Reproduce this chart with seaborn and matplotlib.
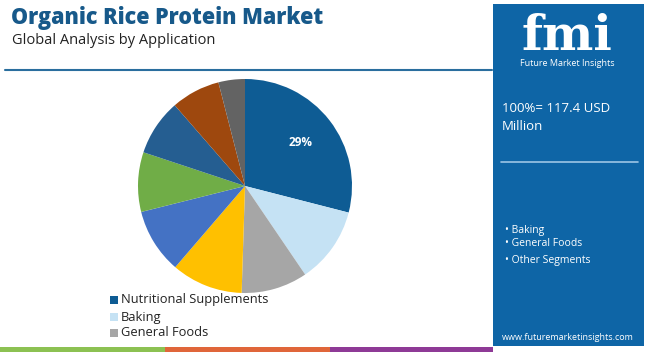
import matplotlib.pyplot as plt
import seaborn as sns
from matplotlib.patches import Rectangle

# data
segments = ['Nutritional Supplements', 'Baking', 'General Foods', 'Segment 4', 'Segment 5',
            'Segment 6', 'Segment 7', 'Segment 8', 'Segment 9']
shares = [29, 11.5, 10, 10.8, 9.8, 9, 8.5, 7.4, 4]
colors = ['#0e5c94', '#c5e2f4', '#a6a6a6', '#ffc000', '#4472c4',
          '#70ad47', '#255e91', '#9e480e', '#636363']
legend_names = ['Nutritional Supplements', 'Baking', 'General Foods']
panel_items = ['Baking', 'General Foods', 'Other Segments']

sns.set_style('white')
plt.rcParams['font.family'] = ['Open Sans', 'DejaVu Sans']

W, H = 650, 352
fig = plt.figure(figsize=(6.5, 3.52), dpi=100)
bg = fig.add_axes([0, 0, 1, 1])
bg.set_xlim(0, W)
bg.set_ylim(H, 0)
bg.axis('off')

# title
bg.text(11, 18, 'Organic Rice Protein Market', fontsize=15.5, fontweight='heavy',
        color='#17598a', va='center', ha='left')
bg.text(12, 40, 'Global Analysis by Application', fontsize=10.5, color='#222222',
        va='center', ha='left')
bg.plot([5, 492], [70, 70], color='#2a6e9e', lw=1.5)

# bottom stripe
for x0, x1, c in [(0, 165, '#8cc152'), (165, 330, '#e0663a'), (330, 493, '#8e3a96')]:
    bg.add_patch(Rectangle((x0, 347), x1 - x0, 5, color=c, lw=0))

# right panel
bg.add_patch(Rectangle((493, 4), 151, 342, color='#0e65a6', lw=0))
bg.text(567, 50, 'fmi', fontsize=35, fontweight='bold', color='white',
        ha='center', va='baseline', family='DejaVu Serif')
bg.text(567, 63, 'Future Market Insights', fontsize=6.5, color='white', ha='center', va='center')
bg.text(502, 108, '100%= 117.4 USD', fontsize=9.5, color='white', va='center')
bg.text(502, 127, 'Million', fontsize=9.5, color='white', va='center')
bg.plot([501, 638], [162, 162], color='#9cc6e6', lw=1.2)
for i, item in enumerate(panel_items):
    y = [230, 244, 261][i]
    bg.text(505, y, '\u2022 ' + item, fontsize=7.5, color='white', va='center')
bg.text(568, 337, 'www.futuremarketinsights.com', fontsize=6.5, color='white',
        ha='center', va='center')

# pie
cx, cy, r = 245, 186, 107
ax = fig.add_axes([(cx - r) / W, (H - cy - r) / H, 2 * r / W, 2 * r / H])
wedges, texts, autotexts = ax.pie(shares, colors=colors, startangle=90, counterclock=False,
                                  autopct=lambda p: '29%' if p > 20 else '', pctdistance=0.66,
                                  textprops=dict(color='white', fontsize=8.5, fontweight='bold'),
                                  wedgeprops=dict(linewidth=0))
ax.set_aspect('auto')
ax.set_xlim(-1, 1)
ax.set_ylim(-1, 1)
ax.axis('off')

# legend
for i, name in enumerate(legend_names):
    y = [300, 317, 333][i]
    bg.add_patch(Rectangle((110, y - 4), 8, 8, color=colors[i], lw=0))
    bg.text(121, y, name, fontsize=9.3, color='#222222', va='center')

plt.savefig('out.png', dpi=100)
